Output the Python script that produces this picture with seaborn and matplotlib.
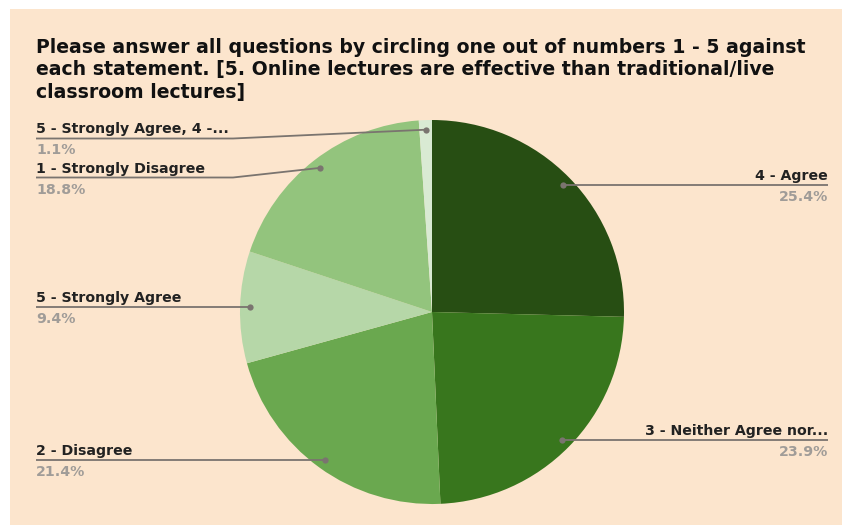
"""Pie chart: survey answers on online vs classroom lectures."""
import numpy as np
import matplotlib
matplotlib.use("Agg")
import matplotlib.pyplot as plt
from matplotlib.patches import Rectangle
import seaborn as sns

# data, clockwise from 12 o'clock
labels = [
    "4 - Agree",
    "3 - Neither Agree nor...",
    "2 - Disagree",
    "5 - Strongly Agree",
    "1 - Strongly Disagree",
    "5 - Strongly Agree, 4 -...",
]
shares = [25.4, 23.9, 21.4, 9.4, 18.8, 1.1]
colors = ["#274e13", "#38761d", "#6aa84f", "#b6d7a8", "#93c47d", "#d9ead3"]

title_lines = [
    "Please answer all questions by circling one out of numbers 1 - 5 against",
    "each statement. [5. Online lectures are effective than traditional/live",
    "classroom lectures]",
]

# layout (pixels, measured from the top-left corner)
W, H = 842, 525
BG = "#fce5cd"
CENTER = (432, 312)
RADIUS = 192
# labels pushed away from their slice to avoid overlapping
label_shift = {4: 177.5, 5: 138.5}
KINK_X = 233
LEFT_X, RIGHT_X = 36, 828
LINE_COL = "#7a746f"


def py(y):
    return H - y


def main():
    sns.set_style("white")
    plt.rcParams["font.family"] = ["DejaVu Sans"]

    fig = plt.figure(figsize=(W / 100, H / 100), dpi=100)
    fig.patch.set_facecolor("white")
    ax = fig.add_axes([0, 0, 1, 1])
    ax.add_patch(Rectangle((10, 0), W - 10, H - 9, facecolor=BG, edgecolor="none", zorder=0))

    wedges, _ = ax.pie(shares, colors=sns.color_palette(colors), startangle=90,
                       counterclock=False, center=(CENTER[0], py(CENTER[1])),
                       radius=RADIUS, wedgeprops=dict(linewidth=0))
    ax.set_xlim(0, W)
    ax.set_ylim(0, H)
    ax.set_aspect("auto")
    ax.axis("off")

    for k, line in enumerate(title_lines):
        ax.text(LEFT_X, py(53 + 22.5 * k), line, fontsize=13.6, fontweight="bold",
                color="#111111", ha="left", va="baseline")

    for i, (w, lab, val) in enumerate(zip(wedges, labels, shares)):
        mid = np.deg2rad((w.theta1 + w.theta2) / 2)
        dx = CENTER[0] + 0.95 * RADIUS * np.cos(mid)
        dy = CENTER[1] - 0.95 * RADIUS * np.sin(mid)
        ly = label_shift.get(i, dy)
        if dx > CENTER[0]:
            xs, ys = [dx, RIGHT_X], [dy, ly]
            tx, ha = RIGHT_X, "right"
        elif i in label_shift:
            xs, ys = [LEFT_X, KINK_X, dx], [ly, ly, dy]
            tx, ha = LEFT_X, "left"
        else:
            xs, ys = [LEFT_X, dx], [ly, dy]
            tx, ha = LEFT_X, "left"
        ax.plot(xs, [py(v) for v in ys], color=LINE_COL, lw=1.3, solid_capstyle="butt")
        ax.plot([dx], [py(dy)], "o", color=LINE_COL, ms=4.5, mew=0)
        ax.text(tx, py(ly - 5), lab, fontsize=10.2, fontweight="bold", color="#222222",
                ha=ha, va="baseline")
        ax.text(tx, py(ly + 16), f"{val:.1f}%", fontsize=10.2, fontweight="bold",
                color="#a09c98", ha=ha, va="baseline")

    fig.savefig("out.png", dpi=100, facecolor=fig.get_facecolor())
    plt.close(fig)


if __name__ == "__main__":
    main()
